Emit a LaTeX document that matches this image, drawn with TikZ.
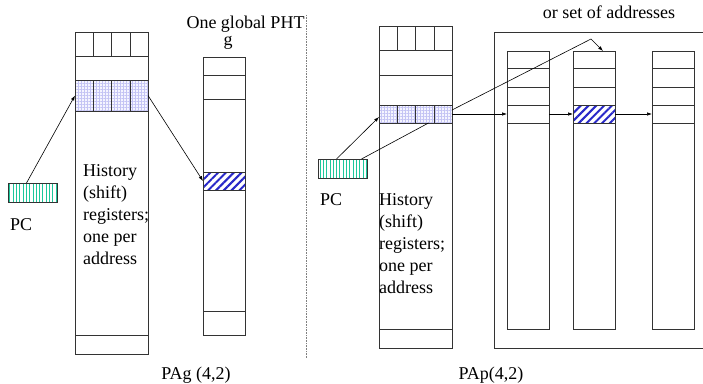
\documentclass[tikz,border=0pt]{standalone}
\usepackage{fontspec}
\setmainfont{Liberation Serif}
\usetikzlibrary{arrows.meta,calc,patterns.meta}
\definecolor{pcgreen}{HTML}{1DC79B}
\definecolor{hatchblue}{HTML}{2828C8}
\definecolor{gridblue}{HTML}{C4C4F4}
\definecolor{edge}{HTML}{333333}
\tikzset{>={Latex[length=5pt,width=3.5pt]},line width=.8pt,
  every node/.style={font=\fontsize{18}{22}\selectfont},
  box/.style={draw=edge,anchor=north west,inner sep=0pt,outer sep=0pt},
  gridrow/.style={box,preaction={fill=blue!4},pattern={Hatch[distance=3pt,line width=.45pt]},pattern color=gridblue},
  hatchrow/.style={box,preaction={fill=white},pattern={Lines[angle=45,distance=5.5pt,line width=2pt]},pattern color=hatchblue},
  pcreg/.style={box,preaction={fill=white},pattern={Lines[angle=90,distance=3.3pt,line width=.9pt]},pattern color=pcgreen},
  link/.style={->,draw=black,line width=.6pt},
  divider/.style={draw=gray,line width=.6pt,dash pattern=on .8pt off .8pt}}

\begin{document}
\begin{tikzpicture}[x=1pt,y=-1pt]
\useasboundingbox (0,0) rectangle (703,383);
% PAg: per-address history registers, one global PHT
\node[box,minimum width=73pt,minimum height=322pt] (histA) at (75,32) {};
\foreach \y in {56,80,335} \draw[edge] (75,\y) -- (148,\y);
\node[gridrow,minimum width=73pt,minimum height=31pt] (histAsel) at (75,80) {};
\foreach \x in {93.25,111.5,129.75} {\draw[edge] (\x,32) -- (\x,56); \draw[edge] (\x,80) -- (\x,111);}
\node[anchor=north west,inner sep=0pt,align=left] (histAlbl) at (83,164) {History\\(shift)\\registers;\\one per\\address};
\node[box,minimum width=42pt,minimum height=278pt] (phtA) at (203,57) {};
\foreach \y in {75,99,311} \draw[edge] (203,\y) -- (245,\y);
\node[hatchrow,minimum width=42pt,minimum height=18pt] (phtAsel) at (203,172) {};
\node[anchor=base,inner sep=0pt] (phtAtitle) at (245.5,28) {One global PHT};
\node[anchor=base,inner sep=0pt] (phtAg) at (228,45) {g};
\node[pcreg,minimum width=49pt,minimum height=19pt] (pcA) at (8,183) {};
\node[anchor=base west,inner sep=0pt] (pcAlbl) at (10,230) {PC};
\draw[link] ([xshift=-6pt]pcA.north) -- (histAsel.west);
\draw[link] (histAsel.east) -- (phtAsel.west);
\node[anchor=base] (pag) at (196,379) {PAg (4,2)};
\draw[divider] (306,15) -- (306,358);
% PAp: per-address history registers, per-address PHTs
\node[box,minimum width=73pt,minimum height=322pt] (histB) at (379,26) {};
\foreach \y in {50,75,329} \draw[edge] (379,\y) -- (452,\y);
\node[gridrow,minimum width=73pt,minimum height=18pt] (histBsel) at (379,105) {};
\foreach \x in {397.25,415.5,433.75} {\draw[edge] (\x,26) -- (\x,50); \draw[edge] (\x,105) -- (\x,123);}
\node[anchor=north west,inner sep=0pt,align=left] (histBlbl) at (379,193) {History\\(shift)\\registers;\\one per\\address};
\node[pcreg,minimum width=49pt,minimum height=19pt] (pcB) at (318,159) {};
\node[anchor=base west,inner sep=0pt] (pcBlbl) at (320,205) {PC};
\draw[edge] (703,32) -- (494,32) -- (494,348) -- (703,348);
\foreach \x/\n in {507/1,573/2,652/3} {
  \node[box,minimum width=42pt,minimum height=278pt] (colB\n) at (\x,51) {};
  \foreach \y in {68,87,105,123} \draw[edge] (\x,\y) -- ({\x+42},\y);
  \node[box,minimum width=42pt,minimum height=18pt] (rowB\n) at (\x,105) {};}
\node[hatchrow,minimum width=42pt,minimum height=18pt] (selB) at (573,105) {};
\node[anchor=base] (papnote) at (609,18) {or set of addresses};
\draw[link] ([xshift=-6pt]pcB.north) -- ([yshift=-3pt]histBsel.west);
\draw[black,line width=.6pt] ([xshift=19pt]pcB.north) -- ([xshift=13pt]histBsel.south);
\draw[link] (histBsel.east) -- (rowB1.west);
\draw[link] (rowB1.east) -- (selB.west);
\draw[link] (selB.east) -- (rowB3.west);
\coordinate (bendB) at (591,39);
\draw[link] ([yshift=-5pt]histBsel.north east) -- (bendB) -- ([xshift=9pt]colB2.north);
\node[anchor=base] (pap) at (491,379) {PAp(4,2)};
\end{tikzpicture}
\end{document}
